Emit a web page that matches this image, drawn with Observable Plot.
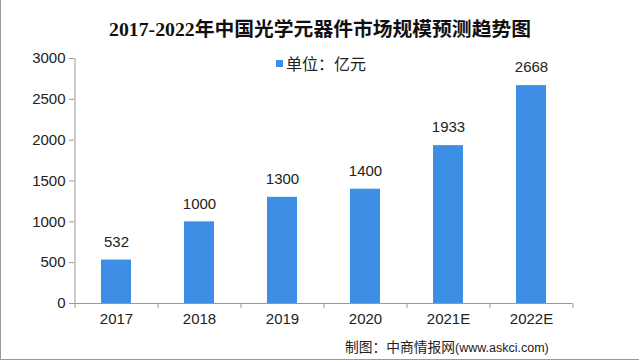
<!DOCTYPE html>
<html><head><meta charset="utf-8">
<script src="https://cdn.jsdelivr.net/npm/d3@7"></script>
<script src="https://cdn.jsdelivr.net/npm/@observablehq/plot@0.6"></script>
<style>
html,body{margin:0;padding:0;background:#fff;}
#wrap{position:relative;width:640px;height:362px;overflow:hidden;font-family:"Noto Sans CJK SC","Noto Sans",sans-serif;}
#frame{position:absolute;left:0;top:0;width:638px;height:359px;border:1px solid #9a9a9a;border-top:none;border-right:none;pointer-events:none;}
#title{position:absolute;left:0;width:640px;top:13px;text-align:center;font-size:19.8px;font-weight:bold;color:#111;font-family:"Liberation Serif","Noto Sans CJK SC",serif;white-space:nowrap;}
#legend{position:absolute;left:276px;top:51px;font-size:16px;color:#222;display:flex;align-items:center;}
#legend span.sw{display:inline-block;width:7px;height:7px;background:#3d8fe6;margin-right:3px;}
#caption{position:absolute;left:345px;top:336px;font-size:13.75px;color:#222;white-space:nowrap;}
#caption span{font-size:12.5px;font-family:"Liberation Sans",Arial,sans-serif;}
#chart{position:absolute;left:0;top:0;}
</style></head>
<body>
<div id="wrap">
<div id="chart"></div>
<div id="title">2017-2022年中国光学元器件市场规模预测趋势图</div>
<div id="legend"><span class="sw"></span>单位：亿元</div>
<div id="caption">制图：中商情报网<span>(www.askci.com)</span></div>
<div id="frame"></div>
</div>
<script>
const years = ["2017","2018","2019","2020","2021E","2022E"];
const values = [532, 1000, 1300, 1400, 1933, 2668];
const yTicks = [0, 500, 1000, 1500, 2000, 2500, 3000];

const data = years.map((y, i) => ({year: y, value: values[i]}));
const left = 74, right = 572;
const step = (right - left) / years.length;

const chart = Plot.plot({
  width: 640,
  height: 362,
  marginLeft: left,
  marginRight: 640 - right,
  marginTop: 58,
  marginBottom: 59,
  style: {fontFamily: "Liberation Sans, Arial, sans-serif", fontSize: "15px", color: "#222", background: "transparent"},
  x: {domain: years, paddingInner: 0.64, paddingOuter: 0.32, label: null, axis: null},
  y: {domain: [0, 3000], label: null, axis: null},
  marks: [
    Plot.barY(data, {x: "year", y: "value", fill: "#3d8fe6"}),
    Plot.text(data, {x: "year", y: "value", text: d => String(d.value), dy: -18, fontSize: 15, fill: "#222"}),
    // y axis line
    Plot.ruleX([years[0]], {x: d => d, y1: 0, y2: 3000, dx: -step / 2, stroke: "#999"}),
    Plot.axisY({ticks: yTicks, tickSize: 5, tickPadding: 4, stroke: "#999", fontSize: 15, fill: "#222", tickFormat: d => String(d)}),
    // x axis
    Plot.ruleY([0], {stroke: "#999"}),
    Plot.axisX({tickSize: 0, tickPadding: 10, fontSize: 15, fill: "#222"}),
    Plot.ruleX(years, {x: d => d, y1: 0, y2: 0, dx: -step / 2, stroke: "#999", insetBottom: -5}),
    Plot.ruleX([years[years.length - 1]], {x: d => d, y1: 0, y2: 0, dx: step / 2, stroke: "#999", insetBottom: -5})
  ]
});
document.getElementById("chart").appendChild(chart);
</script>
</body></html>
